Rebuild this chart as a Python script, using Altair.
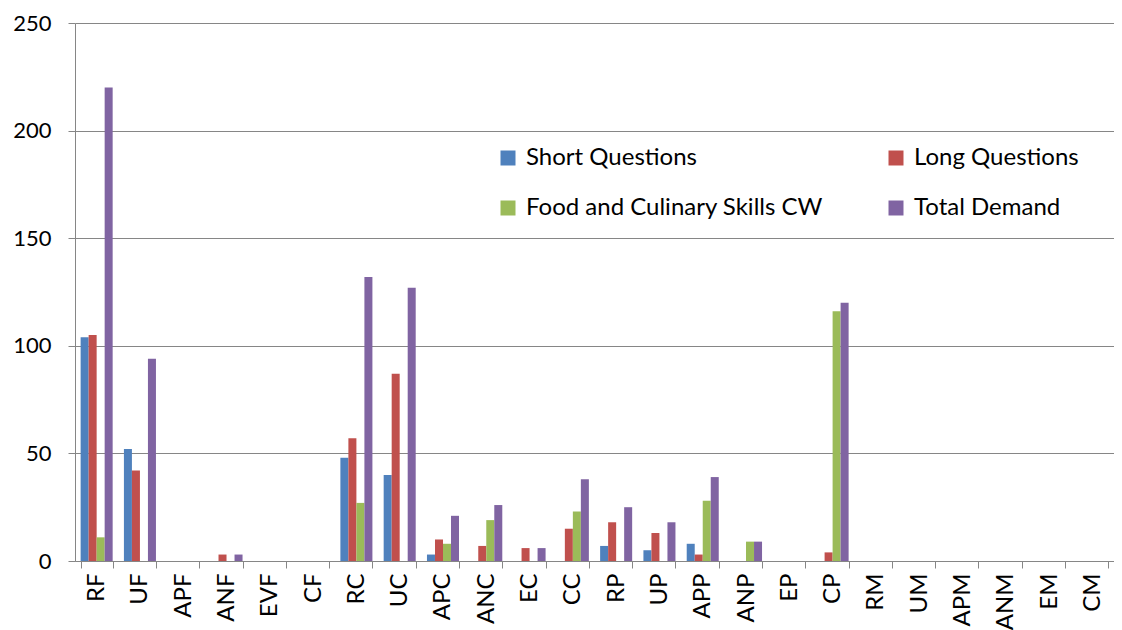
import altair as alt
import pandas as pd

categories = ["RF", "UF", "APF", "ANF", "EVF", "CF", "RC", "UC", "APC", "ANC", "EC", "CC",
              "RP", "UP", "APP", "ANP", "EP", "CP", "RM", "UM", "APM", "ANM", "EM", "CM"]
short_q = [104, 52, 0, 0, 0, 0, 48, 40, 3, 0, 0, 0, 7, 5, 8, 0, 0, 0, 0, 0, 0, 0, 0, 0]
long_q = [105, 42, 0, 3, 0, 0, 57, 87, 10, 7, 6, 15, 18, 13, 3, 0, 0, 4, 0, 0, 0, 0, 0, 0]
food_cw = [11, 0, 0, 0, 0, 0, 27, 0, 8, 19, 0, 23, 0, 0, 28, 9, 0, 116, 0, 0, 0, 0, 0, 0]
total = [220, 94, 0, 3, 0, 0, 132, 127, 21, 26, 6, 38, 25, 18, 39, 9, 0, 120, 0, 0, 0, 0, 0, 0]

series_names = ["Short Questions", "Long Questions", "Food and Culinary Skills CW", "Total Demand"]
series_colors = ["#4F81BD", "#C0504D", "#9BBB59", "#8064A2"]

# legend fills column by column: order so rows read Short/Long, Food/Total
legend_order = [series_names[0], series_names[2], series_names[1], series_names[3]]
legend_colors = [series_colors[0], series_colors[2], series_colors[1], series_colors[3]]

rows = []
for name, vals in zip(series_names, [short_q, long_q, food_cw, total]):
    for c, v in zip(categories, vals):
        rows.append({"cat": c, "series": name, "value": v})
df = pd.DataFrame(rows)

FONT = "Lato"

chart = alt.Chart(df).mark_bar().encode(
    x=alt.X("cat:N", sort=categories,
            scale=alt.Scale(paddingInner=0.26, paddingOuter=0.13),
            axis=alt.Axis(title=None, labelAngle=270, labelFontSize=24, labelFont=FONT,
                          labelColor="#000000", labelPadding=5, tickBand="extent",
                          tickSize=7, tickColor="#868686", domainColor="#868686",
                          minExtent=62, maxExtent=62, grid=False)),
    xOffset=alt.XOffset("series:N", sort=series_names,
                        scale=alt.Scale(paddingInner=0, paddingOuter=0)),
    y=alt.Y("value:Q", scale=alt.Scale(domain=[0, 250]),
            axis=alt.Axis(title=None, values=[0, 50, 100, 150, 200, 250],
                          labelFontSize=22, labelFont=FONT, labelColor="#000000",
                          labelPadding=17, tickSize=7, tickColor="#868686",
                          domainColor="#868686", gridColor="#868686", gridWidth=1,
                          minExtent=67, maxExtent=67)),
    color=alt.Color("series:N",
                    scale=alt.Scale(domain=legend_order, range=legend_colors),
                    legend=alt.Legend(title=None, orient="none", legendX=421, legendY=123,
                                      columns=2, columnPadding=61, rowPadding=26,
                                      symbolType="square", symbolSize=225,
                                      symbolStrokeWidth=0, labelFontSize=24, labelFont=FONT,
                                      labelColor="#000000", labelLimit=500, labelOffset=6,
                                      padding=0)),
).properties(
    width=1039, height=538,
    padding={"left": 0, "top": 4, "right": 0, "bottom": 0},
).configure_view(stroke=None)

chart.save("out.html", embed_options={"renderer": "svg", "actions": False})
